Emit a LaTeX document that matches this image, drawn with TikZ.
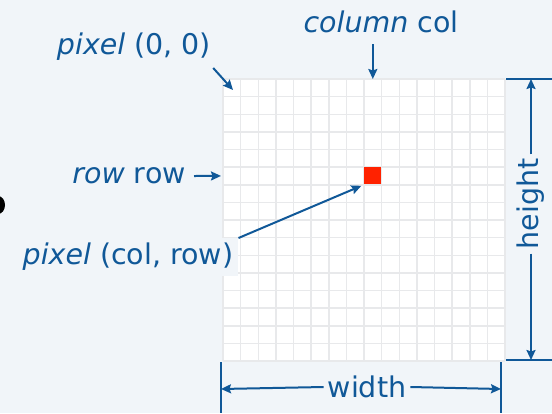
\documentclass[tikz,border=0pt]{standalone}
\usepackage{fontspec}
\setmainfont{DejaVu Sans}
\usetikzlibrary{positioning, arrows.meta}

\definecolor{bg}{RGB}{241,245,249}
\definecolor{ink}{RGB}{16,88,152}
\definecolor{gridline}{RGB}{232,233,235}
\definecolor{pixred}{RGB}{255,34,0}

\begin{document}
\begin{tikzpicture}[x=1pt, y=-1pt,
  font=\fontsize{28.5}{32}\selectfont,
  lbl/.style={inner sep=0pt, text=ink},
  dimlbl/.style={inner sep=4pt, text=ink},
  arr/.style={draw=ink, line width=2pt,
    -{Stealth[length=10pt, width=9pt, inset=1.5pt]}},
  tick/.style={draw=ink, line width=2pt},
  cell/.style={inner sep=0pt, minimum size=17pt},
]
  % Canvas
  \fill[bg] (0,0) rectangle (552,413);
  \useasboundingbox (0,0) rectangle (552,413);
  \fill[black] (-2,205) ellipse [x radius=7, y radius=9];

  % Screen: 16 x 16 pixels
  \node[fill=white, inner sep=0pt, minimum size=282pt, anchor=north west] (screen) at (223,79) {};
  \foreach \i in {0,...,16}{
    \draw[gridline, line width=1.5pt] (223+\i*17.625,79) -- ++(0,282);
    \draw[gridline, line width=1.5pt] (223,79+\i*17.625) -- ++(282,0);
  }
  \node[cell, fill=pixred] (px) at (223+8.5*17.625, 79+5.5*17.625) {};

  % Targets on the screen
  \coordinate (origin) at (233,90);
  \coordinate (coltop) at (223+8.5*17.625, 79);
  \coordinate (rowleft) at (221, 79+5.5*17.625);

  % Labels
  \node[lbl] (orig) at (134,47) {\textit{pixel} (0, 0)};
  \node[lbl] (col) at (381,22) {\textit{column} col};
  \node[lbl, anchor=east] (row) at (186,176) {\textit{row} row};
  \node[lbl, fill=bg, inner sep=5pt] (pxl) at (128,257) {\textit{pixel} (col, row)};

  \draw[arr] ([xshift=2pt, yshift=-7pt]orig.south east) -- (origin);
  \draw[arr, shorten <=11pt] (coltop |- col.south) -- (coltop);
  \draw[arr] ([xshift=8pt]row.east) -- (rowleft);
  \draw[arr, shorten >=3pt] (pxl.north east) -- (px.south west);

  % Height
  \draw[tick] ([xshift=1pt]screen.north east) -- ++(47,0);
  \draw[tick] ([xshift=1pt, yshift=1pt]screen.south east) -- ++(47,0);
  \coordinate (htop) at (531,79);
  \coordinate (hbot) at (531,360);
  \node[dimlbl, rotate=90] (hgt) at (531,204) {height};
  \draw[arr] (hgt.east) -- (htop);
  \draw[arr] (hgt.west) -- (hbot);

  % Width
  \draw[tick] (221,362) -- (221,413);
  \draw[tick] (501,362) -- (501,413);
  \coordinate (wl) at (221,389);
  \coordinate (wr) at (501,389);
  \node[dimlbl] (wd) at (367,387) {width};
  \draw[arr] (wd.west) -- (wl);
  \draw[arr] (wd.east) -- (wr);
\end{tikzpicture}
\end{document}
